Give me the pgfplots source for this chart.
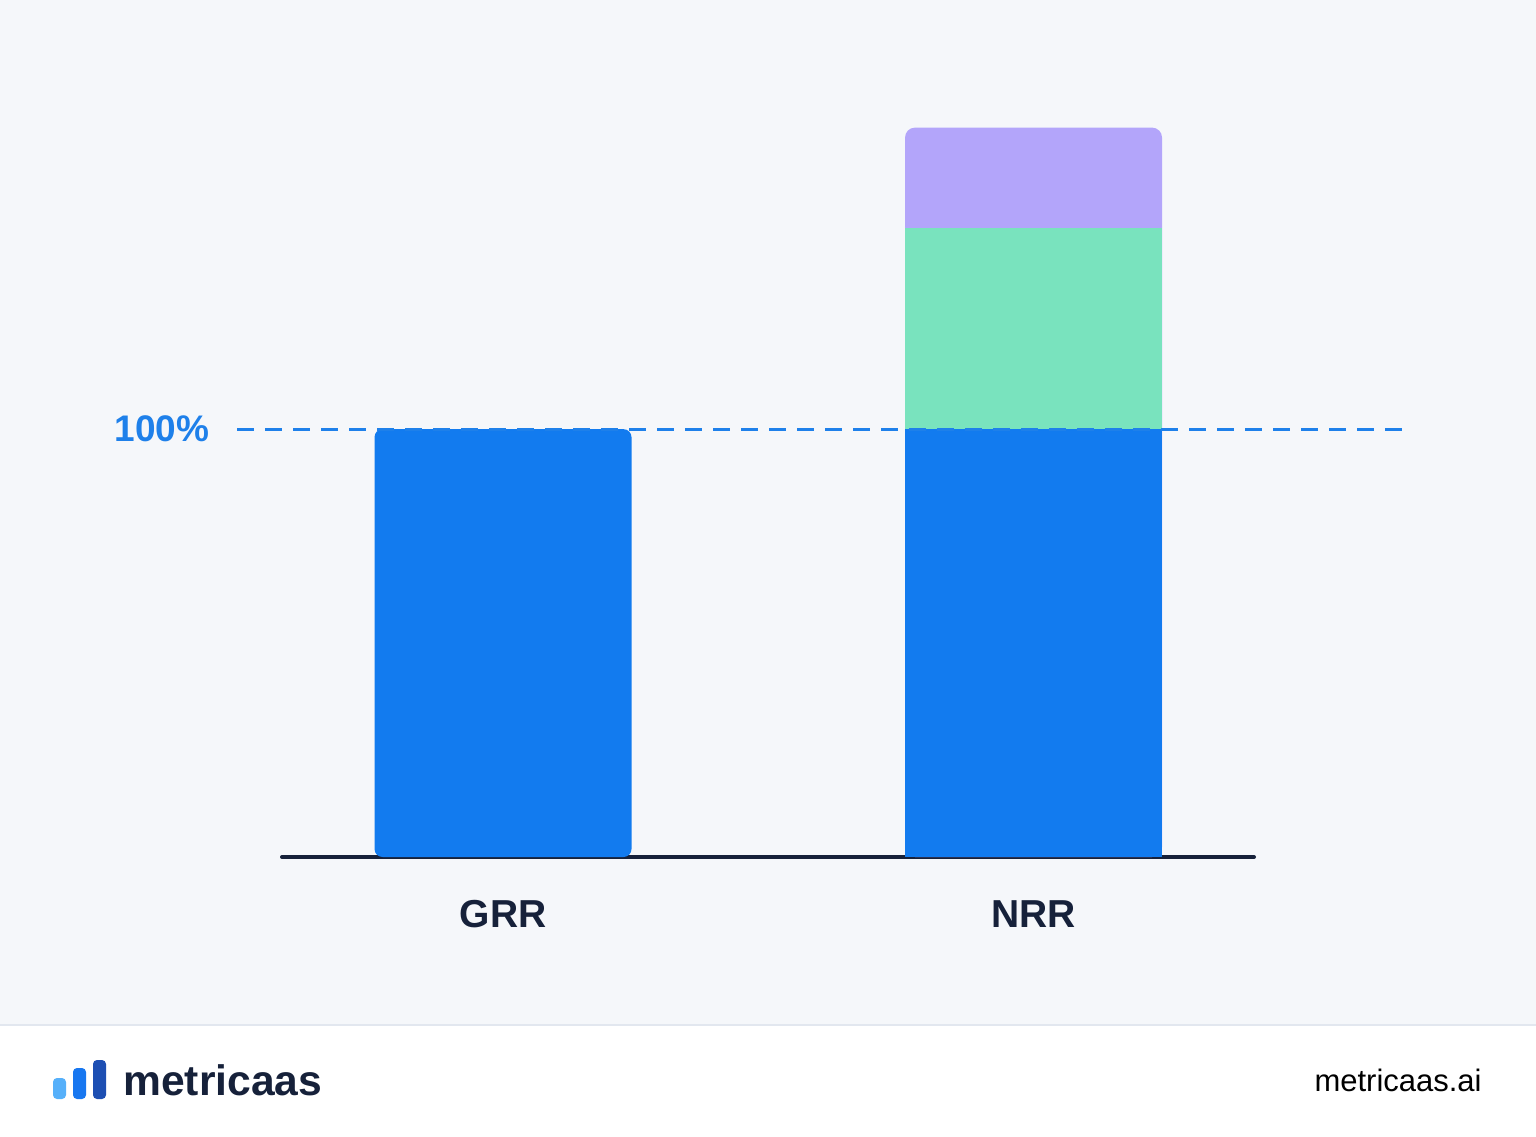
\documentclass[border=0pt]{standalone}
\usepackage{pgfplots}
\pgfplotsset{compat=1.18}
\usepackage{fontspec}
\setmainfont{Liberation Sans}

\definecolor{bgcol}{HTML}{F5F7FA}
\definecolor{barblue}{HTML}{127BEF}
\definecolor{bargreen}{HTML}{79E3BE}
\definecolor{barpurple}{HTML}{B3A5FA}
\definecolor{refblue}{HTML}{1E80EA}
\definecolor{darktext}{HTML}{16213A}
\definecolor{sepcol}{HTML}{E2E7EF}
\definecolor{logoA}{HTML}{56B0FA}
\definecolor{logoB}{HTML}{1877F0}
\definecolor{logoC}{HTML}{1D4FB3}

\begin{document}
\begin{tikzpicture}[x=1pt,y=1pt]
% page: 1536x1136 px at 0.5pt per px
\fill[bgcol] (0,0) rectangle (768,568);
\fill[white] (0,0) rectangle (768,55.5);
\draw[sepcol, line width=1pt] (0,55.5) -- (768,55.5);

\begin{axis}[
    at={(141pt,139.5pt)}, anchor=south west,
    scale only axis,
    width=486pt, height=427.8pt,
    xmin=-0.4166, xmax=1.4156,
    ymin=0, ymax=200,
    clip=false,
    ybar, bar width=128.5pt,
    axis x line=bottom, axis y line=none,
    x axis line style={-, line width=2pt, darktext, line cap=round},
    xtick={0,1}, xticklabels={GRR,NRR},
    major tick length=0pt,
    xticklabel style={font=\fontsize{19.5}{23}\selectfont\bfseries, text=darktext,
                      anchor=base, yshift=-35pt},
    ytick=\empty,
]
% NRR: purple top (100 + 47 + 23.5), drawn first with rounded top
\addplot[fill=barpurple, draw=none, bar shift=0pt, rounded corners=5pt]
    coordinates {(1,170.5)};
% NRR: green segment (100 + 47)
\addplot[fill=bargreen, draw=none, bar shift=0pt]
    coordinates {(1,147)};
% NRR: retained base
\addplot[fill=barblue, draw=none, bar shift=0pt]
    coordinates {(1,100)};
% GRR
\addplot[fill=barblue, draw=none, bar shift=0pt, rounded corners=4pt]
    coordinates {(0,100)};
% 100% reference line
\addplot[sharp plot, refblue, line width=1.5pt, dash pattern=on 8.5pt off 5.5pt]
    coordinates {(-0.5008,100) (1.706,100)};
\node[anchor=east, text=refblue, font=\fontsize{18.5}{22}\selectfont\bfseries, inner sep=0pt]
    at (axis cs:-0.553,100) {100\%};
\end{axis}

% footer logo
\fill[logoA, rounded corners=2pt] (26.5,18.5) rectangle (33,29);
\fill[logoB, rounded corners=2pt] (36.5,18.5) rectangle (43,34);
\fill[logoC, rounded corners=2pt] (46.5,18.5) rectangle (53,38);
\node[anchor=base west, inner sep=0pt, text=darktext, font=\fontsize{21.3}{25}\selectfont\bfseries]
    at (61.5,20.5) {metricaas};
\node[anchor=base east, inner sep=0pt, text=black, font=\fontsize{15.5}{19}\selectfont]
    at (741,22.5) {metricaas.ai};

\pgfresetboundingbox
\useasboundingbox (0,0) rectangle (768,568);
\end{tikzpicture}
\end{document}
